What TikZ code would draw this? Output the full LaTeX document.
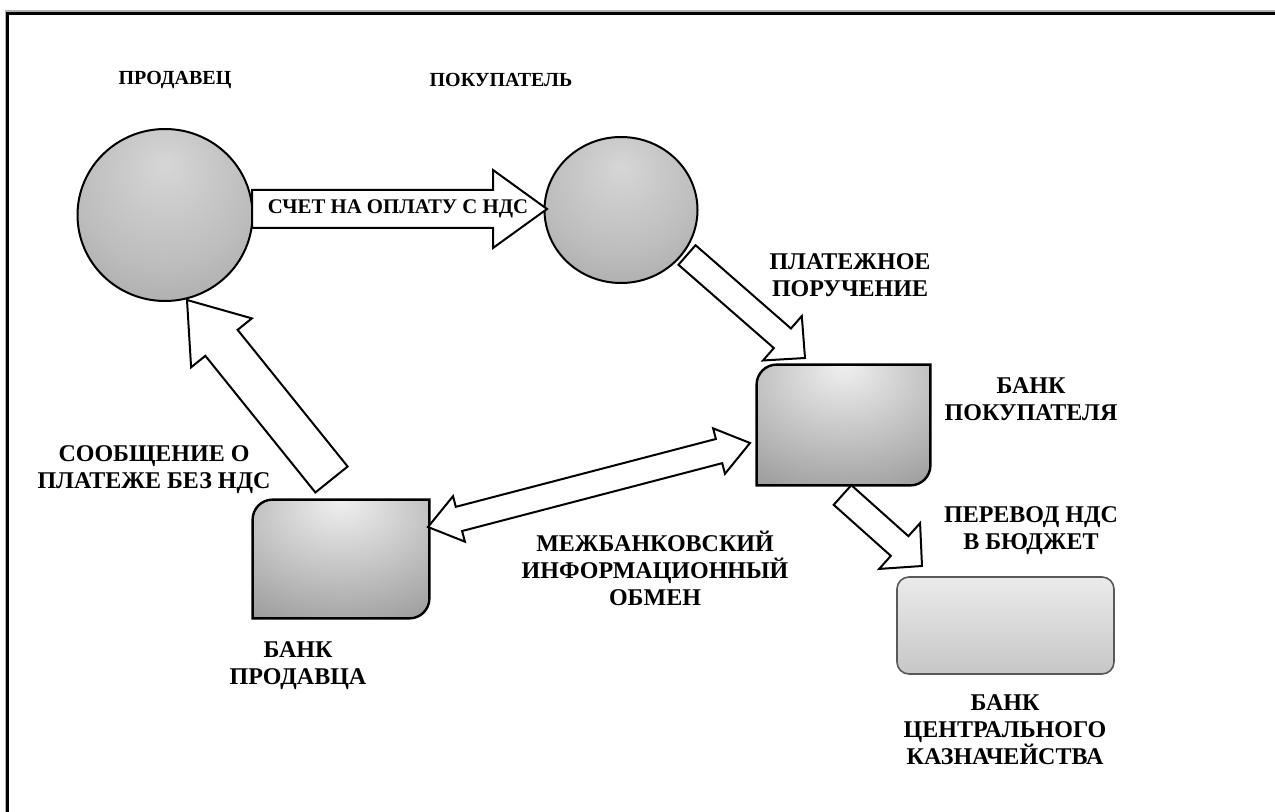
\documentclass[tikz,border=0pt]{standalone}
\usepackage{fontspec}
\setmainfont{Liberation Serif}
\usetikzlibrary{calc,shapes.geometric}
\pgfdeclareradialshading{circshade}{\pgfpoint{0bp}{15bp}}{color(0bp)=(black!16); color(25bp)=(black!26); color(50bp)=(black!40); color(75bp)=(black!50)}
\pgfdeclareradialshading{bankshade}{\pgfpoint{0bp}{25bp}}{color(0bp)=(black!6); color(30bp)=(black!28); color(60bp)=(black!50); color(90bp)=(black!62)}
\tikzset{
  blockarrow/.style={draw=black, fill=white, line width=1pt, line join=miter},
  lbl/.style={font=\fontsize{12}{13.5}\selectfont\bfseries, align=center, inner sep=0pt},
  ttl/.style={font=\fontsize{10}{12}\selectfont\bfseries, inner sep=0pt},
  person/.style={ellipse, draw=black, line width=1pt, shade, shading=circshade, inner sep=0pt},
  bankph/.style={rectangle, draw=none, inner sep=0pt},
  bankfill/.style={draw=black, line width=1.2pt, shading=bankshade},
}
% block arrow: #2 start, #3 tip, #4 shaft half width, #5 head half width, #6 head length
\newcommand\blkarrow[6][]{%
  \coordinate (bahead) at ($(#3)!#6!(#2)$);
  \draw[blockarrow,#1] ($(#2)!#4!90:(#3)$) -- ($(bahead)!#4!-90:(#2)$) -- ($(bahead)!#5!-90:(#2)$) -- (#3) -- ($(bahead)!#5!90:(#2)$) -- ($(bahead)!#4!90:(#2)$) -- ($(#2)!#4!-90:(#3)$) -- cycle;}
\newcommand\dblarrow[6][]{%
  \coordinate (dbha) at ($(#2)!#6!(#3)$);
  \coordinate (dbhb) at ($(#3)!#6!(#2)$);
  \draw[blockarrow,#1] (#2) -- ($(dbha)!#5!90:(#3)$) -- ($(dbha)!#4!90:(#3)$) -- ($(dbhb)!#4!-90:(#2)$) -- ($(dbhb)!#5!-90:(#2)$) -- (#3) -- ($(dbhb)!#5!90:(#2)$) -- ($(dbhb)!#4!90:(#2)$) -- ($(dbha)!#4!-90:(#3)$) -- ($(dbha)!#5!-90:(#3)$) -- cycle;}
\newcommand\bankshape[2]{%
  \shadedraw[bankfill] (#1.south west) -- ($(#1.north west)+(0pt,-#2)$) arc[start angle=180,end angle=90,radius=#2] -- (#1.north east) -- ($(#1.south east)+(0pt,#2)$) arc[start angle=0,end angle=-90,radius=#2] -- cycle;}
\begin{document}
\begin{tikzpicture}[x=0.5pt,y=-0.5pt]
\useasboundingbox (0,0) rectangle (1275,812);
\fill[white] (0,0) rectangle (1275,812);
% frame
\draw[black!30, line width=1pt] (5.5,812) -- (5.5,11) -- (1275,11);
\draw[black, line width=1.5pt] (7.5,812) -- (7.5,13.5) -- (1275,13.5);

% persons
\node[person, minimum width=87.5pt, minimum height=86pt] (seller) at (165,215) {};
\node[person, minimum width=76.5pt, minimum height=73pt] (buyer) at (621,210) {};
\node[ttl] (sellerT) at (175,80) {ПРОДАВЕЦ};
\node[ttl] (buyerT) at (501,80) {ПОКУПАТЕЛЬ};

% banks
\node[bankph, minimum width=86.5pt, minimum height=60pt] (bankB) at (843.5,425) {};
\bankshape{bankB}{10pt}
\node[bankph, minimum width=88pt, minimum height=59pt] (bankS) at (341,559) {};
\bankshape{bankS}{10pt}
\node[rectangle, rounded corners=6pt, draw=black!65, line width=0.8pt, top color=black!8, bottom color=black!22, minimum width=108.5pt, minimum height=48.5pt] (treas) at (1005.5,625.5) {};

% arrow endpoints
\coordinate (a1s) at (252,209);
\coordinate (a1e) at (547,209);
\coordinate (a2s) at (687,255);
\coordinate (a2e) at (805,358);
\coordinate (a3s) at (331.5,479.5);
\coordinate (a3e) at (187,300);
\coordinate (a4s) at (428,527);
\coordinate (a4e) at (750,443);
\coordinate (a5s) at (842.5,495);
\coordinate (a5e) at (922,566);

\blkarrow{a1s}{a1e}{9.5pt}{19.5pt}{27pt}
\blkarrow{a2s}{a2e}{6.5pt}{14.75pt}{15pt}
\blkarrow{a3s}{a3e}{10.35pt}{19.5pt}{27.5pt}
\dblarrow{a4s}{a4e}{6.25pt}{11.75pt}{16pt}
\blkarrow{a5s}{a5e}{6.6pt}{15.35pt}{15pt}

% labels
\node[inner sep=0pt, font=\fontsize{10.4}{12}\selectfont\bfseries] (invoice) at (398,209) {СЧЕТ НА ОПЛАТУ С НДС};
\node[lbl] (payord) at (850,275) {ПЛАТЕЖНОЕ\\ПОРУЧЕНИЕ};
\node[lbl] (bankBT) at (1031,399) {БАНК\\ПОКУПАТЕЛЯ};
\node[lbl] (msg) at (154,470) {СООБЩЕНИЕ О\\ПЛАТЕЖЕ БЕЗ НДС};
\node[lbl] (bankST) at (298,666) {БАНК\\ПРОДАВЦА};
\node[lbl] (interb) at (655,568) {МЕЖБАНКОВСКИЙ\\ИНФОРМАЦИОННЫЙ\\ОБМЕН};
\node[lbl] (vat) at (1031,531) {ПЕРЕВОД НДС\\В БЮДЖЕТ};
\node[lbl] (treasT) at (1005,730) {БАНК\\ЦЕНТРАЛЬНОГО\\КАЗНАЧЕЙСТВА};
\end{tikzpicture}
\end{document}
